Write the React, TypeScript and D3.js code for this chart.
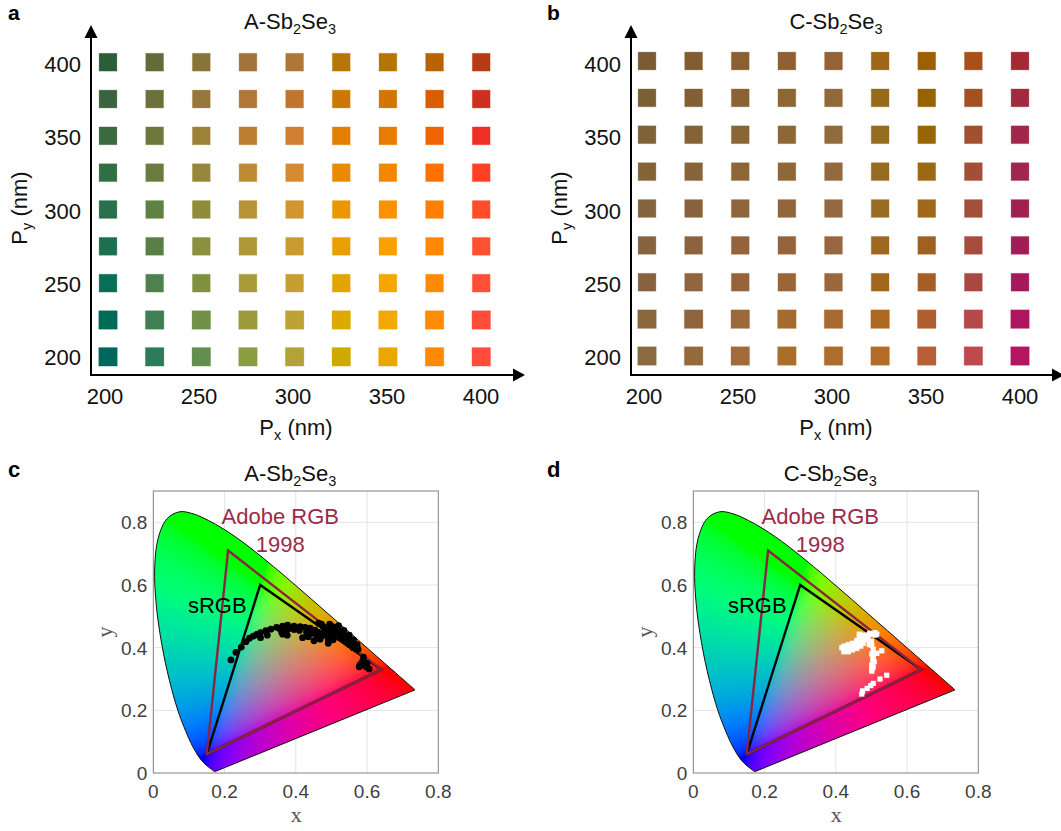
import React, { useMemo } from "react";
import * as d3 from "d3";

const FONT = "'Liberation Sans', Arial, sans-serif";
const SERIF = "'Liberation Serif', 'Times New Roman', serif";

const pxValues = [200, 225, 250, 275, 300, 325, 350, 375, 400];
const pyValues = [400, 375, 350, 325, 300, 275, 250, 225, 200];
const tickNm = [200, 250, 300, 350, 400];
const tickCie = [0, 0.2, 0.4, 0.6, 0.8];

const colorsA = [
  ["#2b5d3b", "#626b39", "#887339", "#a0743a", "#ae7738", "#b67706", "#b67503", "#bb6202", "#b83a14"],
  ["#3c633f", "#6c713b", "#97773a", "#b37637", "#c3752f", "#cd7805", "#d27602", "#d85e00", "#cf2f1e"],
  ["#3b6a40", "#6f783c", "#9c8238", "#bb7f32", "#d07f2f", "#e27f00", "#e87b02", "#ef6503", "#ee2f24"],
  ["#316f44", "#6b7d3e", "#98873a", "#bd8c32", "#d68a2f", "#ea8a00", "#f58700", "#ff7003", "#ff4026"],
  ["#29704c", "#5f8142", "#8f8d3b", "#b69334", "#d29530", "#ea9700", "#fa9200", "#ff7e04", "#ff4d2a"],
  ["#1c6f51", "#588046", "#8a903f", "#af9838", "#cc9b30", "#e89f00", "#faa000", "#ff8806", "#ff5132"],
  ["#076f57", "#4f814c", "#80903f", "#a89a38", "#c69f30", "#e3a400", "#f7a600", "#ff8a06", "#ff5035"],
  ["#006c58", "#3f7f53", "#719048", "#9c9c3c", "#bda334", "#dcaa00", "#f2a904", "#ff8b06", "#ff4d3a"],
  ["#00675c", "#2c7c5a", "#638e50", "#8c9c40", "#b1a338", "#ceaa00", "#eba604", "#ff8804", "#ff4c3d"],
];

const colorsC = [
  ["#7a5b34", "#815d30", "#8b5f30", "#925f33", "#946234", "#9e6616", "#9c6000", "#a84f1a", "#a32935"],
  ["#7d5f34", "#826034", "#896333", "#8e6633", "#916938", "#966a1b", "#976200", "#a35022", "#a12a40"],
  ["#7f6236", "#836335", "#8a6535", "#8d6836", "#916b3b", "#956c20", "#986605", "#a35030", "#a1284a"],
  ["#836439", "#876439", "#8c6637", "#8f6838", "#936a40", "#976b24", "#9c6815", "#a34f38", "#a02650"],
  ["#84633f", "#8a633c", "#8e643c", "#92653c", "#966842", "#9a6c24", "#a06818", "#a34f3a", "#a0204f"],
  ["#87623f", "#8b633e", "#92633c", "#95643b", "#986640", "#9f681f", "#a06020", "#a84c3e", "#a01e55"],
  ["#88623f", "#90653f", "#96633a", "#9b6538", "#9b673c", "#a1661c", "#a65e25", "#ac4842", "#a5195a"],
  ["#8a663b", "#90653c", "#9b6a38", "#a56b2e", "#a96a30", "#ac6720", "#b06030", "#b44b4a", "#ae1660"],
  ["#8a6a3e", "#946a3c", "#a26c3a", "#a96f28", "#ad6d2c", "#b36c28", "#b86035", "#bf4a4d", "#b41560"],
];

const spectralLocus: [number, number][] = [
  [0.1741, 0.005], [0.1733, 0.0048], [0.1726, 0.0048], [0.1714, 0.0051], [0.1703, 0.0058], [0.1689, 0.0069],
  [0.1669, 0.0086], [0.1644, 0.0109], [0.1611, 0.0138], [0.1566, 0.0177], [0.151, 0.0227], [0.144, 0.0297],
  [0.1355, 0.0399], [0.1241, 0.0578], [0.1096, 0.0868], [0.0913, 0.1327], [0.0687, 0.2007], [0.0454, 0.295],
  [0.0235, 0.4127], [0.0082, 0.5384], [0.0039, 0.6548], [0.0139, 0.7502], [0.0389, 0.812], [0.0743, 0.8338],
  [0.1142, 0.8262], [0.1547, 0.8059], [0.1929, 0.7816], [0.2296, 0.7543], [0.2658, 0.7243], [0.3016, 0.6923],
  [0.3373, 0.6589], [0.3731, 0.6245], [0.4087, 0.5896], [0.4441, 0.5547], [0.4788, 0.5202], [0.5125, 0.4866],
  [0.5448, 0.4544], [0.5752, 0.4242], [0.6029, 0.3965], [0.627, 0.3725], [0.6482, 0.3514], [0.6658, 0.334],
  [0.6801, 0.3197], [0.6915, 0.3083], [0.7006, 0.2993], [0.7079, 0.292], [0.714, 0.2859], [0.719, 0.2809],
  [0.723, 0.277], [0.726, 0.274], [0.73, 0.27], [0.7347, 0.2653],
];

const adobeGamut: [number, number][] = [[0.64, 0.33], [0.21, 0.71], [0.15, 0.06]];
const srgbGamut: [number, number][] = [[0.64, 0.33], [0.3, 0.6], [0.15, 0.06]];

const pointsA: [number, number][] = [
  [0.218, 0.361], [0.232, 0.385], [0.247, 0.402], [0.26, 0.419], [0.27, 0.43], [0.281, 0.437], [0.29, 0.442],
  [0.301, 0.448], [0.301, 0.432], [0.316, 0.454], [0.33, 0.459], [0.346, 0.465], [0.363, 0.469], [0.377, 0.472],
  [0.395, 0.469], [0.412, 0.467], [0.426, 0.465], [0.44, 0.462], [0.454, 0.456], [0.463, 0.449], [0.363, 0.443],
  [0.376, 0.44], [0.37, 0.451], [0.419, 0.432], [0.435, 0.435], [0.451, 0.422], [0.468, 0.427], [0.491, 0.414],
  [0.491, 0.427], [0.473, 0.437], [0.464, 0.478], [0.477, 0.467], [0.488, 0.458], [0.501, 0.469], [0.51, 0.465],
  [0.519, 0.456], [0.505, 0.451], [0.515, 0.446], [0.529, 0.446], [0.538, 0.437], [0.524, 0.432], [0.547, 0.424],
  [0.557, 0.416], [0.543, 0.419], [0.566, 0.405], [0.575, 0.395], [0.561, 0.4], [0.588, 0.357], [0.578, 0.339],
  [0.594, 0.345], [0.606, 0.332], [0.597, 0.339], [0.585, 0.35], [0.498, 0.46], [0.51, 0.452], [0.525, 0.44],
  [0.535, 0.425], [0.55, 0.41], [0.48, 0.45], [0.445, 0.445], [0.43, 0.45], [0.41, 0.455], [0.395, 0.458],
  [0.38, 0.46], [0.355, 0.46], [0.32, 0.44], [0.36, 0.45], [0.5, 0.44], [0.49, 0.435], [0.46, 0.435],
  [0.472, 0.475], [0.495, 0.475], [0.52, 0.47], [0.535, 0.455], [0.55, 0.44], [0.562, 0.425], [0.572, 0.41],
  [0.59, 0.37], [0.6, 0.35], [0.58, 0.345], [0.505, 0.425],
];

const pointsC: [number, number][] = [
  [0.473, 0.252], [0.475, 0.262], [0.488, 0.27], [0.498, 0.279], [0.505, 0.286], [0.524, 0.3], [0.543, 0.312],
  [0.501, 0.331], [0.501, 0.345], [0.504, 0.361], [0.505, 0.371], [0.515, 0.382], [0.529, 0.39], [0.505, 0.395],
  [0.501, 0.408], [0.423, 0.395], [0.423, 0.405], [0.435, 0.398], [0.435, 0.41], [0.447, 0.405], [0.447, 0.414],
  [0.459, 0.412], [0.459, 0.423], [0.47, 0.419], [0.466, 0.435], [0.477, 0.44], [0.477, 0.426], [0.491, 0.424],
  [0.491, 0.44], [0.504, 0.443], [0.51, 0.44], [0.485, 0.432], [0.5, 0.42], [0.423, 0.387], [0.435, 0.387],
  [0.447, 0.393], [0.459, 0.398], [0.47, 0.405], [0.477, 0.414], [0.486, 0.436], [0.466, 0.443], [0.495, 0.446],
  [0.51, 0.448], [0.417, 0.4], [0.515, 0.443], [0.494, 0.41], [0.501, 0.38], [0.501, 0.325], [0.505, 0.338],
  [0.508, 0.355],
];

const plotW = 285;
const plotH = 282;
const xMax = 0.8;
const yMax = 0.9;

function chromaColor(x: number, y: number): [number, number, number] {
  const X = x / y;
  const Z = (1 - x - y) / y;
  const r = Math.max(0, 3.2406 * X - 1.5372 - 0.4986 * Z);
  const g = Math.max(0, -0.9689 * X + 1.8758 + 0.0415 * Z);
  const b = Math.max(0, 0.0557 * X - 0.204 + 1.057 * Z);
  const sum = r + g + b || 1;
  const k = 1.25;
  const enc = (v: number) => 255 * Math.pow(Math.min(1, v), 1 / 1.8);
  return [enc((r / sum) * k), enc((g / sum) * k), enc((b / sum) * k)];
}

function useChromaImage(): string {
  return useMemo(() => {
    const canvas = document.createElement("canvas");
    canvas.width = plotW;
    canvas.height = plotH;
    const ctx = canvas.getContext("2d")!;
    const img = ctx.createImageData(plotW, plotH);
    for (let j = 0; j < plotH; j++) {
      for (let i = 0; i < plotW; i++) {
        const x = ((i + 0.5) / plotW) * xMax;
        const y = Math.max(0.002, (1 - (j + 0.5) / plotH) * yMax);
        const [r, g, b] = chromaColor(x, y);
        const o = (j * plotW + i) * 4;
        img.data[o] = r;
        img.data[o + 1] = g;
        img.data[o + 2] = b;
        img.data[o + 3] = 255;
      }
    }
    ctx.putImageData(img, 0, 0);
    return canvas.toDataURL();
  }, []);
}

const Title = ({ x, y, prefix }: { x: number; y: number; prefix: string }) => (
  <text x={x} y={y} textAnchor="middle" fontSize={22} fontFamily={FONT} fill="#111">
    {prefix}-Sb
    <tspan fontSize={14.5} dy={5}>2</tspan>
    <tspan dy={-5}>Se</tspan>
    <tspan fontSize={14.5} dy={5}>3</tspan>
  </text>
);

function ColorPanel(props: {
  colors: string[][];
  label: string;
  labelX: number;
  axisX: number;
  arrowEnd: number;
  xFirst: number;
  xLast: number;
  yFirst: number;
  yLast: number;
  tickFirst: number;
  tickLast: number;
  titleX: number;
  pxLabelX: number;
  pyLabelX: number;
  prefix: string;
}) {
  const p = props;
  const sx = d3.scaleLinear().domain([200, 400]).range([p.xFirst, p.xLast]);
  const sy = d3.scaleLinear().domain([400, 200]).range([p.yFirst, p.yLast]);
  const tx = d3.scaleLinear().domain([200, 400]).range([p.tickFirst, p.tickLast]);
  const ty = d3.scaleLinear().domain([400, 200]).range([72, 365.2]);
  const axisY = 375;
  return (
    <g>
      <text x={p.labelX} y={19.5} fontSize={21} fontWeight="bold" fontFamily={FONT} fill="#000">{p.label}</text>
      <Title x={p.titleX} y={29} prefix={p.prefix} />
      {pyValues.map((py, r) =>
        pxValues.map((px, c) => {
          const s = py <= 225 ? 18.5 : 17.8;
          return (
            <rect key={`${r}-${c}`} x={sx(px) - s / 2} y={sy(py) - s / 2} width={s} height={s}
              fill={p.colors[r][c]} stroke={p.colors[r][c]} strokeOpacity={0.3} strokeWidth={1} />
          );
        })
      )}
      <line x1={p.axisX} x2={p.axisX} y1={axisY + 1} y2={36} stroke="#000" strokeWidth={2} />
      <line x1={p.axisX - 1} x2={p.arrowEnd - 10} y1={axisY} y2={axisY} stroke="#000" strokeWidth={2} />
      <path d={d3.line()([[p.axisX, 25], [p.axisX + 6.5, 38], [p.axisX - 6.5, 38]]) + "Z"} fill="#000" />
      <path d={d3.line()([[p.arrowEnd, axisY], [p.arrowEnd - 12, axisY - 6.5], [p.arrowEnd - 12, axisY + 6.5]]) + "Z"} fill="#000" />
      {tickNm.map((t) => (
        <text key={`x${t}`} x={tx(t)} y={404} textAnchor="middle" fontSize={22} fontFamily={FONT} fill="#111">{t}</text>
      ))}
      {tickNm.map((t) => (
        <text key={`y${t}`} x={p.axisX - 10} y={ty(t)} textAnchor="end" fontSize={22} fontFamily={FONT} fill="#111">{t}</text>
      ))}
      <text x={p.pxLabelX} y={435} textAnchor="middle" fontSize={22} fontFamily={FONT} fill="#111">
        P<tspan fontSize={14.5} dy={5}>x</tspan><tspan dy={-5}> (nm)</tspan>
      </text>
      <text transform={`translate(${p.pyLabelX},208) rotate(-90)`} textAnchor="middle" fontSize={22} fontFamily={FONT} fill="#111">
        P<tspan fontSize={14.5} dy={5}>y</tspan><tspan dy={-5}> (nm)</tspan>
      </text>
    </g>
  );
}

function CiePanel(props: {
  offset: number;
  label: string;
  labelX: number;
  prefix: string;
  image: string;
  id: string;
  points: [number, number][];
  pointMark: "circle" | "square";
}) {
  const p = props;
  const x0 = p.offset;
  const sx = d3.scaleLinear().domain([0, xMax]).range([x0, x0 + plotW]);
  const sy = d3.scaleLinear().domain([0, yMax]).range([773, 773 - plotH]);
  const line = d3.line<[number, number]>().x((d) => sx(d[0])).y((d) => sy(d[1]));
  const locus = line.curve(d3.curveCatmullRom)(spectralLocus) + "Z";
  line.curve(d3.curveLinear);
  return (
    <g>
      <text x={p.labelX} y={477} fontSize={22} fontWeight="bold" fontFamily={FONT} fill="#000">{p.label}</text>
      <Title x={x0 + 137} y={481} prefix={p.prefix} />
      {tickCie.slice(1, 4).map((t) => (
        <line key={`gx${t}`} x1={sx(t)} x2={sx(t)} y1={sy(0)} y2={sy(yMax)} stroke="#e4e4e4" strokeWidth={1} />
      ))}
      {tickCie.slice(1).map((t) => (
        <line key={`gy${t}`} x1={sx(0)} x2={sx(xMax)} y1={sy(t)} y2={sy(t)} stroke="#e4e4e4" strokeWidth={1} />
      ))}
      <clipPath id={p.id}><path d={locus} /></clipPath>
      <image href={p.image} x={sx(0)} y={sy(yMax)} width={plotW} height={plotH} clipPath={`url(#${p.id})`} preserveAspectRatio="none" />
      <path d={locus} fill="none" stroke="#111" strokeWidth={1} />
      <rect x={sx(0)} y={sy(yMax)} width={plotW} height={plotH} fill="none" stroke="#808080" strokeWidth={1} />
      {tickCie.map((t) => (
        <text key={`tx${t}`} x={sx(t)} y={798} textAnchor="middle" fontSize={19} fontFamily={FONT} fill="#404040">{t}</text>
      ))}
      {tickCie.map((t) => (
        <text key={`ty${t}`} x={x0 - 6} y={sy(t) + 7} textAnchor="end" fontSize={19} fontFamily={FONT} fill="#404040">{t}</text>
      ))}
      <text x={x0 + 143} y={822} textAnchor="middle" fontSize={22} fontFamily={SERIF} fill="#555">x</text>
      <text transform={`translate(${x0 - 41},632) rotate(-90)`} textAnchor="middle" fontSize={22} fontFamily={SERIF} fill="#555">y</text>
      <path d={line(srgbGamut) + "Z"} fill="none" stroke="#000" strokeWidth={2.4} />
      <path d={line(adobeGamut) + "Z"} fill="none" stroke="#8b2342" strokeWidth={2.4} />
      <text x={x0 + 127} y={524} textAnchor="middle" fontSize={22} fontFamily={FONT} fill="#9c2a4a">Adobe RGB</text>
      <text x={x0 + 127} y={552} textAnchor="middle" fontSize={22} fontFamily={FONT} fill="#9c2a4a">1998</text>
      <text x={x0 + 64} y={613} textAnchor="middle" fontSize={22} fontFamily={FONT} fill="#000">sRGB</text>
      {p.points.map((d, i) =>
        p.pointMark === "circle" ? (
          <circle key={i} cx={sx(d[0])} cy={sy(d[1])} r={3.4} fill="#000" />
        ) : (
          <rect key={i} x={sx(d[0]) - 2.6} y={sy(d[1]) - 2.6} width={5.2} height={5.2} fill="#fff" />
        )
      )}
    </g>
  );
}

export default function App() {
  const image = useChromaImage();
  return (
    <svg width={1061} height={831} viewBox="0 0 1061 831" style={{ position: "absolute", left: 0, top: 0, background: "#fff", display: "block" }}>
      <ColorPanel colors={colorsA} label="a" labelX={8} axisX={91} arrowEnd={525} xFirst={108} xLast={481.2} yFirst={62.2} yLast={356.8}
        tickFirst={105} tickLast={481} titleX={290} pxLabelX={296} pyLabelX={27} prefix="A" />
      <ColorPanel colors={colorsC} label="b" labelX={547} axisX={631} arrowEnd={1064} xFirst={647} xLast={1020} yFirst={61} yLast={356}
        tickFirst={644} tickLast={1020} titleX={836} pxLabelX={836} pyLabelX={567} prefix="C" />
      <CiePanel offset={153.3} label="c" labelX={8} prefix="A" image={image} id="locusC" points={pointsA} pointMark="circle" />
      <CiePanel offset={693.3} label="d" labelX={547} prefix="C" image={image} id="locusD" points={pointsC} pointMark="square" />
    </svg>
  );
}
